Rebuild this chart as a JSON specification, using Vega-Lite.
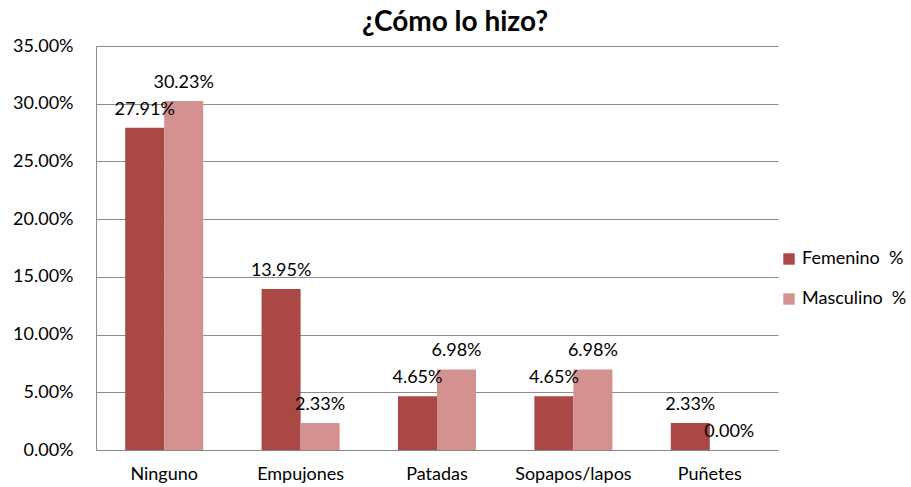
{
  "$schema": "https://vega.github.io/schema/vega-lite/v6.json",
  "autosize": {"type": "none"},
  "width": 682,
  "height": 404,
  "padding": {"left": 96, "top": 46, "right": 133, "bottom": 37},
  "background": "white",
  "title": {"text": "¿Cómo lo hizo?", "font": "Lato", "fontSize": 28, "fontWeight": "bold", "color": "#000000", "anchor": "middle", "dx": 18, "offset": 0},
  "config": {
    "view": {"stroke": null},
    "font": "Lato"
  },
  "data": {"values": [
    {"cat": "Ninguno", "g": "Femenino\u00a0 %", "v": 0.2791},
    {"cat": "Ninguno", "g": "Masculino\u00a0 %", "v": 0.3023},
    {"cat": "Empujones", "g": "Femenino\u00a0 %", "v": 0.1395},
    {"cat": "Empujones", "g": "Masculino\u00a0 %", "v": 0.0233},
    {"cat": "Patadas", "g": "Femenino\u00a0 %", "v": 0.0465},
    {"cat": "Patadas", "g": "Masculino\u00a0 %", "v": 0.0698},
    {"cat": "Sopapos/lapos", "g": "Femenino\u00a0 %", "v": 0.0465},
    {"cat": "Sopapos/lapos", "g": "Masculino\u00a0 %", "v": 0.0698},
    {"cat": "Puñetes", "g": "Femenino\u00a0 %", "v": 0.0233},
    {"cat": "Puñetes", "g": "Masculino\u00a0 %", "v": 0.0}
  ]},
  "encoding": {
    "x": {"field": "cat", "type": "nominal", "sort": null,
      "scale": {"paddingInner": 0.428, "paddingOuter": 0.214},
      "axis": {"title": null, "labelAngle": 0, "labelFontSize": 18, "labelColor": "#000000", "labelPadding": 15, "ticks": false, "domainColor": "#888888", "labelFont": "Lato"}},
    "xOffset": {"field": "g", "type": "nominal", "sort": ["Femenino\u00a0 %", "Masculino\u00a0 %"], "scale": {"paddingInner": 0, "paddingOuter": 0}},
    "y": {"field": "v", "type": "quantitative",
      "scale": {"domain": [0, 0.35], "nice": false},
      "axis": {"title": null, "format": ".2%", "values": [0, 0.05, 0.1, 0.15, 0.2, 0.25, 0.3, 0.35], "labelFontSize": 18, "labelColor": "#000000", "labelPadding": 23, "ticks": false, "gridColor": "#8c8c8c", "domainColor": "#8c8c8c", "labelFont": "Lato"}}
  },
  "layer": [
    {
      "mark": {"type": "bar"},
      "encoding": {
        "color": {"field": "g", "type": "nominal", "sort": ["Femenino\u00a0 %", "Masculino\u00a0 %"],
          "scale": {"domain": ["Femenino\u00a0 %", "Masculino\u00a0 %"], "range": ["#ab4745", "#d39290"]},
          "legend": {"title": null, "orient": "none", "legendX": 684, "legendY": 204, "symbolType": "square", "symbolSize": 130, "symbolStrokeWidth": 0, "labelFontSize": 18, "labelColor": "#000000", "rowPadding": 22, "labelOffset": 4, "labelFont": "Lato"}
        }
      }
    },
    {
      "mark": {"type": "text", "baseline": "bottom", "dy": -9, "fontSize": 18, "color": "#000000", "font": "Lato"},
      "encoding": {
        "text": {"field": "v", "type": "quantitative", "format": ".2%"}
      }
    }
  ]
}
